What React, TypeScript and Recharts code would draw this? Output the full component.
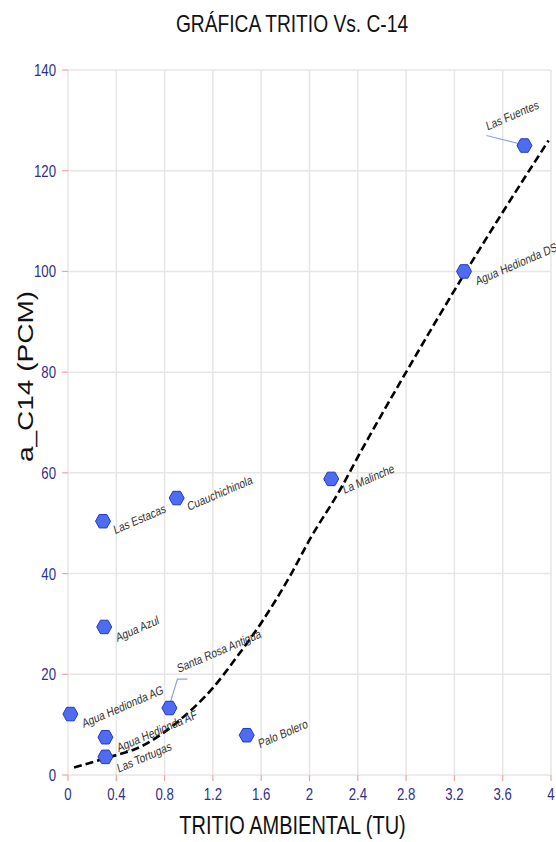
import React from "react";
import {
  ComposedChart,
  Scatter,
  Line,
  XAxis,
  YAxis,
  CartesianGrid,
  Label,
} from "recharts";

// Sampling stations: tritium (TU) vs. C-14 activity (pMC)
const stationNames = [
  "Las Fuentes",
  "Agua Hedionda DS",
  "La Malinche",
  "Cuauchichinola",
  "Las Estacas",
  "Agua Azul",
  "Santa Rosa Antigua",
  "Agua Hedionda AG",
  "Agua Hedionda AF",
  "Las Tortugas",
  "Palo Bolero",
];
const stationTritio = [3.78, 3.28, 2.18, 0.9, 0.29, 0.3, 0.84, 0.02, 0.31, 0.31, 1.48];
const stationC14 = [125, 100, 58.8, 55, 50.4, 29.4, 13.3, 12.1, 7.5, 3.6, 7.9];

// Fitted trend (dashed)
const fitTritio = [0.05, 0.32, 0.6, 0.93, 1.2, 1.4, 1.6, 1.85, 2.0, 2.25, 2.42, 2.8, 3.27, 3.58, 3.98];
const fitC14 = [1.5, 3.4, 5.6, 11, 17.3, 23.5, 30.2, 40, 46.7, 56.5, 64, 80, 99, 111, 126];

const xTicks = [0, 0.4, 0.8, 1.2, 1.6, 2, 2.4, 2.8, 3.2, 3.6, 4];
const yTicks = [0, 20, 40, 60, 80, 100, 120, 140];

const stations = stationNames.map((name, i) => ({
  name,
  tritio: stationTritio[i],
  c14: stationC14[i],
}));
const fitCurve = fitTritio.map((t, i) => ({ tritio: t, c14: fitC14[i] }));

// label placement relative to the marker (repel-style), optional leader path
const labelNudge: Record<string, { dx: number; dy: number; leader?: [number, number][] }> = {
  "Las Fuentes": { dx: -37, dy: -15, leader: [[-38, -10], [-6, -2]] },
  "Agua Hedionda DS": { dx: 13, dy: 14 },
  "La Malinche": { dx: 13, dy: 15 },
  Cuauchichinola: { dx: 12, dy: 13 },
  "Las Estacas": { dx: 12, dy: 13 },
  "Agua Azul": { dx: 13, dy: 15 },
  "Santa Rosa Antigua": { dx: 9, dy: -35, leader: [[1, -6], [8, -29], [18, -29]] },
  "Agua Hedionda AG": { dx: 13, dy: 14 },
  "Agua Hedionda AF": { dx: 13, dy: 15 },
  "Las Tortugas": { dx: 13, dy: 16 },
  "Palo Bolero": { dx: 13, dy: 13 },
};

const FONT = "'Liberation Sans', Arial, sans-serif";
const TICK_COLOR = "#2f2f8c";
const SQUASH = 0.8;

function StationMarker(props: any) {
  const { cx, cy, payload } = props;
  const r = 7.5;
  const h = r * 0.9;
  const pts = [
    [cx - r, cy],
    [cx - r / 2, cy - h],
    [cx + r / 2, cy - h],
    [cx + r, cy],
    [cx + r / 2, cy + h],
    [cx - r / 2, cy + h],
  ]
    .map((p) => p.join(","))
    .join(" ");
  const nudge = labelNudge[payload.name] || { dx: 12, dy: 12 };
  return (
    <g>
      {nudge.leader && (
        <polyline
          points={nudge.leader.map(([x, y]) => `${cx + x},${cy + y}`).join(" ")}
          fill="none"
          stroke="#8fa0f0"
          strokeWidth={1.2}
        />
      )}
      <polygon points={pts} fill="#4d6cf2" stroke="#2238c4" strokeWidth={1} />
      <g transform={`translate(${cx + nudge.dx},${cy + nudge.dy}) scale(${SQUASH},1) rotate(-19)`}>
        <text fontFamily={FONT} fontSize={12.5} fill="#333">
          {payload.name}
        </text>
      </g>
    </g>
  );
}

function XTick(props: any) {
  const { x, y, payload } = props;
  return (
    <g transform={`translate(${x},${y}) scale(${SQUASH},1)`}>
      <text textAnchor="middle" dy="0.72em" fontFamily={FONT} fontSize={16.5} fill={TICK_COLOR}>
        {payload.value}
      </text>
    </g>
  );
}

function YTick(props: any) {
  const { x, y, payload } = props;
  return (
    <g transform={`translate(${x},${y}) scale(${SQUASH},1)`}>
      <text textAnchor="end" dy="0.36em" fontFamily={FONT} fontSize={16.5} fill={TICK_COLOR}>
        {payload.value}
      </text>
    </g>
  );
}

function YTitle(props: any) {
  const { viewBox } = props;
  const cy = viewBox.y + viewBox.height / 2 - 46;
  return (
    <g transform={`translate(33,${cy}) rotate(-90) scale(1,${SQUASH})`}>
      <text textAnchor="middle" fontFamily={FONT} fontSize={28} fill="#111">
        a_C14 (PCM)
      </text>
    </g>
  );
}

function XTitle(props: any) {
  const { viewBox } = props;
  const cx = viewBox.x + viewBox.width / 2 - 17;
  return (
    <g transform={`translate(${cx},834) scale(${SQUASH},1)`}>
      <text textAnchor="middle" fontFamily={FONT} fontSize={25} fill="#111">
        TRITIO AMBIENTAL (TU)
      </text>
    </g>
  );
}

export default function App() {
  return (
    <div style={{ position: "absolute", left: 0, top: 0, width: 556, height: 842, background: "#fff" }}>
      <div
        style={{
          position: "absolute",
          left: 0,
          top: 10,
          width: 584,
          textAlign: "center",
          fontFamily: FONT,
          fontSize: 24,
          color: "#111",
          transform: `scaleX(${SQUASH})`,
          transformOrigin: "292px 0",
          whiteSpace: "nowrap",
        }}
      >
        GRÁFICA TRITIO Vs. C-14
      </div>
      <ComposedChart width={556} height={842} margin={{ top: 70, right: 5, bottom: 0, left: 0 }}>
        <CartesianGrid stroke="#e6e6e6" strokeWidth={1.5} />
        <XAxis
          dataKey="tritio"
          type="number"
          domain={[0, 4]}
          ticks={xTicks}
          height={67}
          axisLine={false}
          tickSize={6}
          tickMargin={7}
          tickLine={{ stroke: "#f2a0a0", strokeWidth: 1.2 }}
          tick={<XTick />}
        >
          <Label content={<XTitle />} />
        </XAxis>
        <YAxis
          type="number"
          domain={[0, 140]}
          ticks={yTicks}
          width={68}
          axisLine={false}
          tickSize={6}
          tickMargin={6}
          tickLine={{ stroke: "#f2a0a0", strokeWidth: 1.2 }}
          tick={<YTick />}
        >
          <Label content={<YTitle />} />
        </YAxis>
        <Line
          data={fitCurve}
          dataKey="c14"
          type="monotone"
          stroke="#000"
          strokeWidth={2.6}
          strokeDasharray="8 4"
          dot={false}
          activeDot={false}
          isAnimationActive={false}
        />
        <Scatter data={stations} dataKey="c14" shape={<StationMarker />} isAnimationActive={false} />
      </ComposedChart>
    </div>
  );
}
